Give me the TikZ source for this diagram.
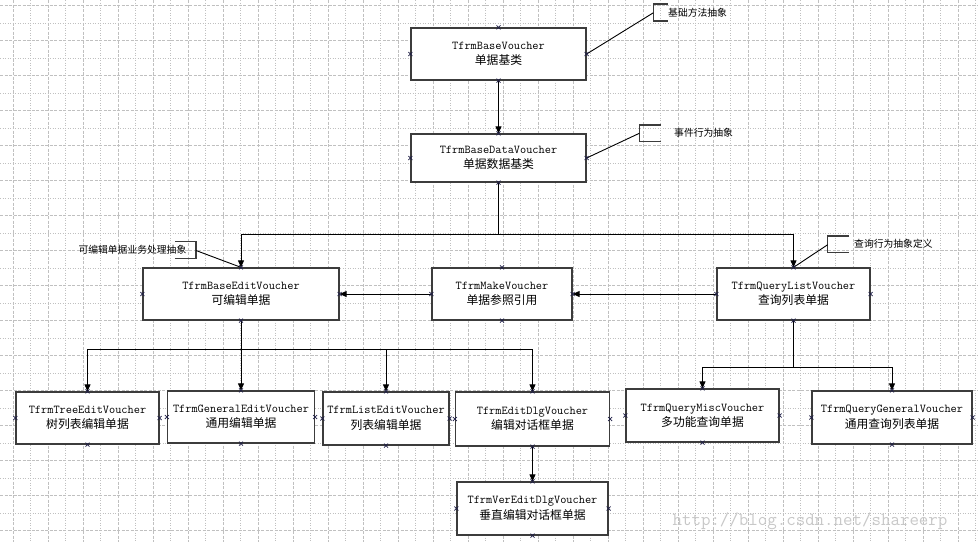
\documentclass[tikz,border=0pt]{standalone}
\usepackage{fontspec}
\newfontfamily\cjkfont{Noto Sans CJK SC}
\usetikzlibrary{arrows.meta}
\newcommand\latfont{\ttfamily\fontsize{12}{15.5}\selectfont}
\newcommand\zhfont{\cjkfont\fontsize{11.8}{15.5}\selectfont}
\newcommand\notefont{\cjkfont\fontsize{9.8}{12}\selectfont}
\definecolor{gridc}{RGB}{192,192,192}
\definecolor{boxc}{RGB}{60,60,60}
\definecolor{markc}{RGB}{30,30,70}
\definecolor{wmc}{RGB}{200,200,200}
\tikzset{
  box/.style={draw=boxc, line width=1.3pt, fill=white, inner sep=0pt, align=center,
    font=\fontsize{12}{15.5}\selectfont},
  conn/.style={line width=1pt, black},
  arr/.style={conn, -{Triangle[length=7pt,width=6pt]}},
  bracket/.style={draw=boxc, line width=1.2pt},
  noteline/.style={line width=0.9pt, black},
  notetext/.style={inner sep=0pt, font=\notefont},
  gridd/.style={gridc, line width=0.7pt, dash pattern=on 3pt off 1.5pt},
  gridp/.style={gridc, line width=0.7pt, dash pattern=on 1pt off 1.5pt},
  xm/.style={markc, line width=0.7pt}
}
\newcommand\cpmark[1]{\draw[xm] ([shift={(-2,-2)}]#1) -- ([shift={(2,2)}]#1) ([shift={(-2,2)}]#1) -- ([shift={(2,-2)}]#1);}
\newcommand\boxcpmarks[1]{\cpmark{#1.north}\cpmark{#1.south}\cpmark{#1.east}\cpmark{#1.west}}
\begin{document}
\begin{tikzpicture}[x=1pt,y=-1pt]
\useasboundingbox (0,0) rectangle (978,542);
\fill[white] (0,0) rectangle (978,542);
% grid
\foreach \k in {0,...,55}{
  \pgfmathsetmacro\gx{13.3+17.5*\k}
  \ifodd\k \draw[gridp] (\gx,0) -- (\gx,542); \else \draw[gridd] (\gx,0) -- (\gx,542); \fi
}
\foreach \k in {0,...,30}{
  \pgfmathsetmacro\gy{5.7+17.5*\k}
  \ifodd\k \draw[gridp] (0,\gy) -- (978,\gy); \else \draw[gridd] (0,\gy) -- (978,\gy); \fi
}
% watermark
\node[inner sep=0pt, text=wmc, font=\ttfamily\fontsize{18.4}{20}\selectfont] (wm) at (810,521.5) {http://blog.csdn.net/shareerp};
% boxes
\node[box, minimum width=175pt, minimum height=52pt] (base) at (498.5,54) {\latfont TfrmBaseVoucher\\\zhfont 单据基类};
\node[box, minimum width=175pt, minimum height=48pt] (basedata) at (498.5,158) {\latfont TfrmBaseDataVoucher\\\zhfont 单据数据基类};
\node[box, minimum width=196pt, minimum height=52pt] (baseedit) at (241,294) {\latfont TfrmBaseEditVoucher\\\zhfont 可编辑单据};
\node[box, minimum width=140pt, minimum height=52pt] (make) at (502,294) {\latfont TfrmMakeVoucher\\\zhfont 单据参照引用};
\node[box, minimum width=153pt, minimum height=52pt] (qlist) at (793.5,294) {\latfont TfrmQueryListVoucher\\\zhfont 查询列表单据};
\node[box, minimum width=143pt, minimum height=52pt] (tree) at (87.5,418) {\latfont TfrmTreeEditVoucher\\\zhfont 树列表编辑单据};
\node[box, minimum width=147pt, minimum height=52pt] (general) at (241,417) {\latfont TfrmGeneralEditVoucher\\\zhfont 通用编辑单据};
\node[box, minimum width=126pt, minimum height=53pt] (list) at (386,418.5) {\latfont TfrmListEditVoucher\\\zhfont 列表编辑单据};
\node[box, minimum width=154pt, minimum height=54pt] (editdlg) at (532.5,419) {\latfont TfrmEditDlgVoucher\\\zhfont 编辑对话框单据};
\node[box, minimum width=153pt, minimum height=53pt] (misc) at (702.5,415.5) {\latfont TfrmQueryMiscVoucher\\\zhfont 多功能查询单据};
\node[box, minimum width=160pt, minimum height=53pt] (qgen) at (892,417.5) {\latfont TfrmQueryGeneralVoucher\\\zhfont 通用查询列表单据};
\node[box, minimum width=151pt, minimum height=53pt] (veredit) at (532.5,508.5) {\latfont TfrmVerEditDlgVoucher\\\zhfont 垂直编辑对话框单据};
% junctions
\coordinate (j1) at (498.5,234.5);
\coordinate (j2) at (241,349.3);
\coordinate (j3) at (793.5,367.7);
% connectors
\draw[arr] (base.south) -- (basedata.north);
\draw[conn] (basedata.south) -- (j1);
\draw[arr] (j1) -| (baseedit.north);
\draw[arr] (j1) -| (qlist.north);
\draw[arr] (qlist.west) -- (make.east);
\draw[arr] (make.west) -- (baseedit.east);
\draw[conn] (baseedit.south) -- (j2);
\draw[arr] (j2) -| (tree.north);
\draw[arr] (j2) -- (general.north);
\draw[arr] (j2) -| (list.north);
\draw[arr] (j2) -| (editdlg.north);
\draw[conn] (qlist.south) -- (j3);
\draw[arr] (j3) -| (misc.north);
\draw[arr] (j3) -| (qgen.north);
\draw[arr] (editdlg.south) -- (veredit.north);
% annotations
\draw[bracket] (667.7,4) -- (653.3,4) -- (653.3,21) -- (667.7,21);
\coordinate (b1) at (653.3,12.8);
\node[notetext, anchor=west] (n1) at (668,12.5) {基础方法抽象};
\draw[noteline] (base.east) -- (b1);
\draw[bracket] (660.7,125) -- (639.3,125) -- (639.3,141.7) -- (660.7,141.7);
\coordinate (b2) at (639.3,133.3);
\node[notetext, anchor=west] (n2) at (674,132.5) {事件行为抽象};
\draw[noteline] (basedata.east) -- (b2);
\draw[bracket] (175,241.7) -- (196,241.7) -- (196,258.3) -- (175,258.3);
\coordinate (b3) at (196,250.5);
\node[notetext, anchor=west] (n3) at (78.3,250) {可编辑单据业务处理抽象};
\draw[noteline] (b3) -- (baseedit.north);
\draw[bracket] (849,236) -- (827.7,236) -- (827.7,252.7) -- (849,252.7);
\coordinate (b4) at (827.7,244.7);
\node[notetext, anchor=west] (n4) at (854,244) {查询行为抽象定义};
\draw[noteline] (b4) -- (qlist.north);
% connection marks
\boxcpmarks{base}\boxcpmarks{basedata}\boxcpmarks{baseedit}\boxcpmarks{make}\boxcpmarks{qlist}
\boxcpmarks{tree}\boxcpmarks{general}\boxcpmarks{list}\boxcpmarks{editdlg}\boxcpmarks{misc}\boxcpmarks{qgen}\boxcpmarks{veredit}
\end{tikzpicture}
\end{document}
